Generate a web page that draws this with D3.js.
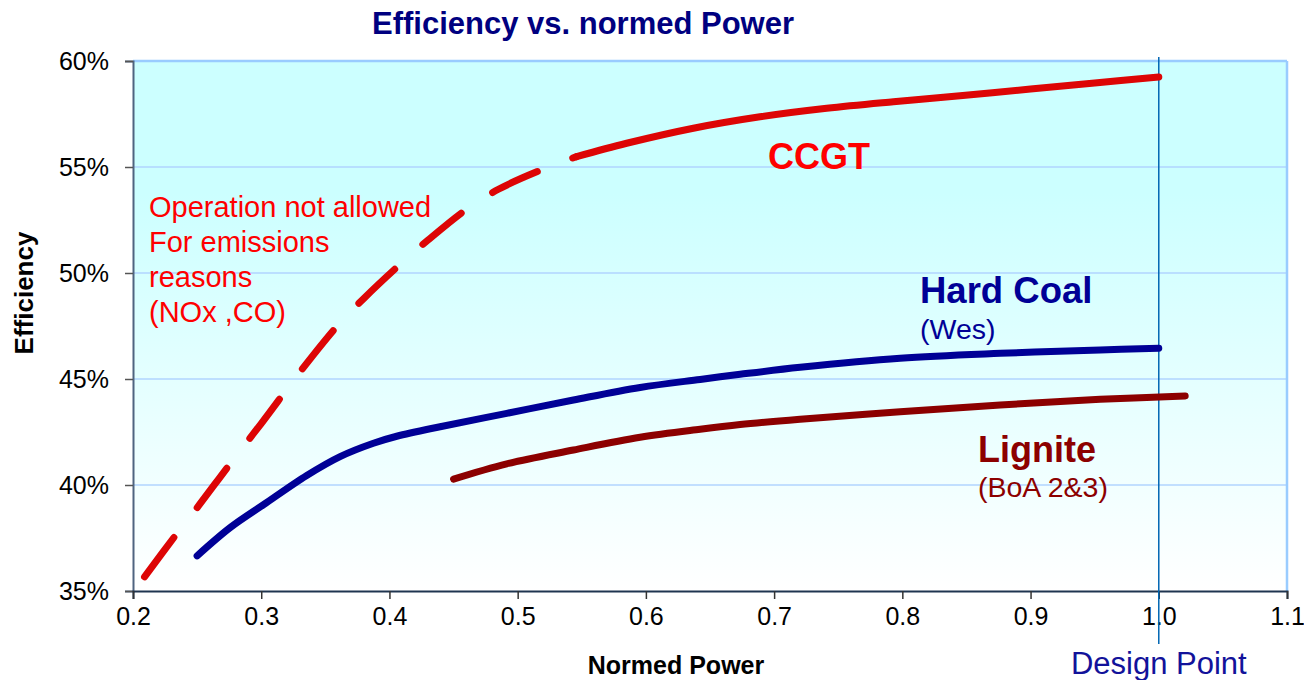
<!DOCTYPE html>
<html>
<head>
<meta charset="utf-8">
<script src="https://cdn.jsdelivr.net/npm/d3@7"></script>
<style>
  body { margin: 0; background: #fff; }
  svg { display: block; font-family: "Liberation Sans", Arial, sans-serif; }
</style>
</head>
<body>
<svg id="chart" width="1304" height="680"></svg>
<script>
// ---- data ----
const xTicks = [0.2, 0.3, 0.4, 0.5, 0.6, 0.7, 0.8, 0.9, 1.0, 1.1];
const yTicks = [35, 40, 45, 50, 55, 60];

const ccgtDashedX = [0.209, 0.235, 0.25, 0.277, 0.30, 0.333, 0.36, 0.38, 0.41, 0.43, 0.46, 0.485, 0.52, 0.546];
const ccgtDashedY = [35.67, 37.77, 38.93, 41.1, 42.9, 45.55, 47.55, 48.8, 50.5, 51.55, 53.0, 53.95, 54.9, 55.49];
const ccgtSolidX = [0.546, 0.585, 0.637, 0.689, 0.741, 0.793, 0.845, 0.9, 0.95, 1.0];
const ccgtSolidY = [55.49, 56.12, 56.83, 57.37, 57.77, 58.08, 58.36, 58.68, 58.96, 59.25];

const hardCoalX = [0.25, 0.276, 0.302, 0.3355, 0.3615, 0.3875, 0.4057, 0.4395, 0.4915, 0.5435, 0.5955, 0.6423, 0.6735, 0.7203, 0.7983, 0.8763, 0.9543, 1.0];
const hardCoalY = [36.66, 38.0, 39.08, 40.45, 41.34, 41.97, 42.3, 42.75, 43.38, 44.01, 44.6, 44.98, 45.22, 45.55, 45.98, 46.21, 46.37, 46.45];

const ligniteX = [0.45, 0.4915, 0.5435, 0.5955, 0.6423, 0.6735, 0.7203, 0.7983, 0.8763, 0.9543, 1.0206];
const ligniteY = [40.28, 41.0, 41.65, 42.25, 42.63, 42.85, 43.1, 43.46, 43.77, 44.04, 44.2];

const designPoint = 1.0;
const annotationLines = ["Operation not allowed", "For emissions", "reasons", "(NOx ,CO)"];

// ---- chart ----
const svg = d3.select("#chart");
const x = d3.scaleLinear().domain([0.2, 1.1]).range([133, 1287]);
const y = d3.scaleLinear().domain([35, 60]).range([591, 61]);
const FONT = "'Liberation Sans', Arial, sans-serif";

const defs = svg.append("defs");
const grad = defs.append("linearGradient").attr("id", "bg").attr("x1", 0).attr("y1", 0).attr("x2", 0).attr("y2", 1);
grad.append("stop").attr("offset", "0%").attr("stop-color", "#ccffff");
grad.append("stop").attr("offset", "25%").attr("stop-color", "#ccffff");
grad.append("stop").attr("offset", "100%").attr("stop-color", "#ffffff");

svg.append("rect")
  .attr("x", x(0.2)).attr("y", y(60))
  .attr("width", x(1.1) - x(0.2)).attr("height", y(35) - y(60))
  .attr("fill", "url(#bg)");

// gridlines
svg.append("g").selectAll("line").data(yTicks.filter(d => d > 35)).join("line")
  .attr("x1", x(0.2)).attr("x2", x(1.1))
  .attr("y1", d => y(d)).attr("y2", d => y(d))
  .attr("stroke", d => d === 60 ? "#99ccff" : "#b0d4ff")
  .attr("stroke-width", d => d === 60 ? 2.5 : 1.5);

// right border
svg.append("line")
  .attr("x1", x(1.1)).attr("x2", x(1.1)).attr("y1", y(60)).attr("y2", y(35))
  .attr("stroke", "#99ccff").attr("stroke-width", 2.5);

// axes
const yAxis = d3.axisLeft(y).tickValues(yTicks).tickFormat(d => d + "%").tickSize(8).tickPadding(16);
const gy = svg.append("g").attr("transform", `translate(${x(0.2)},0)`).call(yAxis);
gy.select(".domain").attr("stroke", "#4f6480").attr("stroke-width", 2);
gy.selectAll(".tick line").attr("stroke", "#555").attr("stroke-width", 1.5);
gy.selectAll(".tick text").attr("font-size", 25).attr("fill", "#000").attr("font-family", FONT);

const xAxis = d3.axisBottom(x).tickValues(xTicks).tickFormat(d3.format(".1f")).tickSize(8).tickPadding(8);
const gx = svg.append("g").attr("transform", `translate(0,${y(35)})`).call(xAxis);
gx.select(".domain").attr("stroke", "#1f3550").attr("stroke-width", 2);
gx.selectAll(".tick line").attr("stroke", "#333").attr("stroke-width", 1.5);
gx.selectAll(".tick text").attr("font-size", 25).attr("fill", "#000").attr("font-family", FONT);

// design point line
svg.append("line")
  .attr("x1", x(designPoint)).attr("x2", x(designPoint))
  .attr("y1", 57).attr("y2", 644)
  .attr("stroke", "#0066b3").attr("stroke-width", 1.5);

// curves
const line = d3.line().x(d => x(d[0])).y(d => y(d[1])).curve(d3.curveCatmullRom.alpha(0.5));
const zip = (a, b) => a.map((v, i) => [v, b[i]]);

svg.append("path").datum(zip(ccgtDashedX, ccgtDashedY))
  .attr("d", line).attr("fill", "none").attr("stroke", "#dd0505")
  .attr("stroke-width", 7).attr("stroke-linecap", "round")
  .attr("stroke-dasharray", "49,38");
svg.append("path").datum(zip(ccgtSolidX, ccgtSolidY))
  .attr("d", line).attr("fill", "none").attr("stroke", "#dd0505")
  .attr("stroke-width", 7).attr("stroke-linecap", "round");
svg.append("path").datum(zip(hardCoalX, hardCoalY))
  .attr("d", line).attr("fill", "none").attr("stroke", "#000096")
  .attr("stroke-width", 7).attr("stroke-linecap", "round");
svg.append("path").datum(zip(ligniteX, ligniteY))
  .attr("d", line).attr("fill", "none").attr("stroke", "#8c0000")
  .attr("stroke-width", 7).attr("stroke-linecap", "round");

// texts
svg.append("text").attr("x", 583).attr("y", 34).attr("text-anchor", "middle")
  .attr("font-size", 31).attr("font-weight", "bold").attr("fill", "#000080")
  .text("Efficiency vs. normed Power");

svg.append("text").attr("transform", "translate(33,293) rotate(-90)").attr("text-anchor", "middle")
  .attr("font-size", 26).attr("font-weight", "bold").attr("fill", "#000")
  .text("Efficiency");

svg.append("text").attr("x", 676).attr("y", 674).attr("text-anchor", "middle")
  .attr("font-size", 25).attr("font-weight", "bold").attr("fill", "#000")
  .text("Normed Power");

svg.append("text").attr("x", x(designPoint)).attr("y", 674).attr("text-anchor", "middle")
  .attr("font-size", 31).attr("fill", "#12129a")
  .text("Design Point");

svg.append("g").selectAll("text").data(annotationLines).join("text")
  .attr("x", 149).attr("y", (d, i) => 217 + i * 35)
  .attr("font-size", 29).attr("fill", "#ff0000")
  .text(d => d);

svg.append("text").attr("x", 768).attr("y", 169)
  .attr("font-size", 36).attr("font-weight", "bold").attr("fill", "#ff0000").text("CCGT");

svg.append("text").attr("x", 920).attr("y", 303)
  .attr("font-size", 36.5).attr("font-weight", "bold").attr("fill", "#000096").text("Hard Coal");
svg.append("text").attr("x", 920).attr("y", 339)
  .attr("font-size", 28.5).attr("fill", "#000096").text("(Wes)");

svg.append("text").attr("x", 978).attr("y", 462)
  .attr("font-size", 36).attr("font-weight", "bold").attr("fill", "#8c0000").text("Lignite");
svg.append("text").attr("x", 978).attr("y", 497)
  .attr("font-size", 28.5).attr("fill", "#8c0000").text("(BoA 2&3)");
</script>
</body>
</html>
